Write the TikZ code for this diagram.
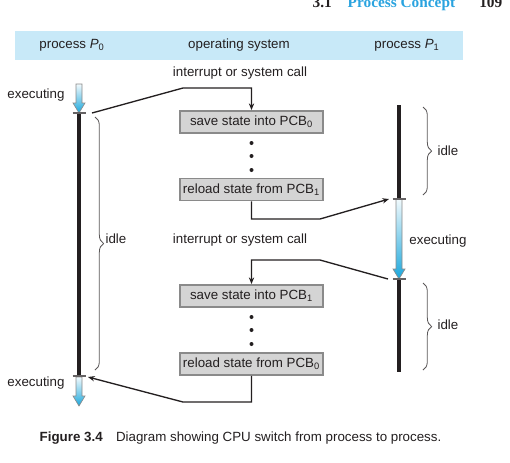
\documentclass[tikz,border=0pt]{standalone}
\usepackage{fontspec}
\setmainfont{Liberation Sans}
\newfontfamily\headserif{Liberation Serif}
\usetikzlibrary{arrows.meta,decorations.pathreplacing}
\definecolor{ink}{HTML}{231F20}
\definecolor{band}{HTML}{C8E9F8}
\definecolor{sky}{HTML}{1AA7DC}
\definecolor{boxgray}{HTML}{D4D4D4}
\definecolor{edge}{HTML}{8A8A8A}
\definecolor{headblue}{HTML}{2AA3DF}

\begin{document}
\begin{tikzpicture}[x=.75pt,y=-.75pt,font=\fontsize{10}{12}\selectfont,text=ink,
  pcb/.style={draw=edge,line width=1.4pt,fill=boxgray,minimum width=107pt,minimum height=16.5pt,inner sep=0pt},
  dot/.style={circle,fill=ink,inner sep=0pt,minimum size=3pt},
  link/.style={draw=ink,line width=1pt,-{Stealth[length=5pt,width=4pt]}},
  timeline/.style={draw=ink,line width=3pt},
  tick/.style={draw=ink!70,line width=.9pt},
  idlebrace/.style={draw=ink!75,line width=.6pt,decorate,decoration={brace,amplitude=6.5pt}},
  runarrow/.style={draw=edge,line width=.5pt,top color=sky!6,bottom color=sky}]
  \useasboundingbox (0,0) rectangle (510,462);
  % running head of the page
  \node[anchor=base west,font=\headserif\bfseries\fontsize{11.5}{12}\selectfont] (runsec) at (308,7) {3.1};
  \node[anchor=base west,font=\headserif\bfseries\fontsize{11.5}{12}\selectfont,text=headblue] (runtitle) at (343,7) {Process Concept};
  \node[anchor=base east,font=\headserif\bfseries\fontsize{11.5}{12}\selectfont] (runpage) at (507,7) {109};
  % header band
  \fill[band] (15,31) rectangle (463,60);
  \node (hp0) at (72,45) {process \textit{P}\textsubscript{0}};
  \node (hos) at (239,45) {operating system};
  \node (hp1) at (407,45) {process \textit{P}\textsubscript{1}};
  % time lines
  \draw[timeline] (79,113) -- (79,376);
  \draw[timeline] (399,105) -- (399,199);
  \draw[timeline] (399,279) -- (399,372);
  \foreach \x/\ya/\yb in {79/84/113, 79/377/406, 399/199/279}
    \path[runarrow] (\x-3,\ya) -- (\x+3,\ya) -- (\x+3,\yb-10) -- (\x+6,\yb-10)
      -- (\x,\yb) -- (\x-6,\yb-10) -- (\x-3,\yb-10) -- cycle;
  \foreach \x/\y in {79/113, 79/376, 399/199, 399/279}
    \draw[tick] (\x-6.5,\y) -- (\x+6.5,\y);
  \coordinate (p0leave) at (92,113);
  \coordinate (p0back) at (88,377);
  \coordinate (p1start) at (389,199);
  \coordinate (p1leave) at (388,279);
  \node (exec0) at (36,95) {executing};
  \node (exec0b) at (36,383) {executing};
  \node (exec1) at (438,241) {executing};
  % idle braces
  \draw[idlebrace] (95,117) -- (95,370);
  \node[anchor=west,inner sep=1pt] (idle0) at (104,239) {idle};
  \draw[idlebrace] (423,107) -- (423,195);
  \node[anchor=west,inner sep=1pt] (idle1a) at (436,151) {idle};
  \draw[idlebrace] (423,283) -- (423,370);
  \node[anchor=west,inner sep=1pt] (idle1b) at (436,325) {idle};
  % operating system
  \node (irq0) at (240,73) {interrupt or system call};
  \node[pcb] (save0) at (251.5,122) {save state into PCB\textsubscript{0}};
  \foreach \y [count=\i] in {143,156,170}
    \node[dot] (dotA\i) at (251.5,\y) {};
  \node[pcb] (load1) at (251.5,189.5) {reload state from PCB\textsubscript{1}};
  \node (irq1) at (240,240) {interrupt or system call};
  \node[pcb] (save1) at (251.5,296) {save state into PCB\textsubscript{1}};
  \foreach \y [count=\i] in {317,330,344}
    \node[dot] (dotB\i) at (251.5,\y) {};
  \node[pcb] (load0) at (251.5,364) {reload state from PCB\textsubscript{0}};
  % switches
  \draw[link] (p0leave) -- (183,88) -| (save0.north);
  \draw[link] (load1.south) |- (320,219) -- (p1start);
  \draw[link] (p1leave) -- (320,260) -| (save1.north);
  \draw[link] (load0.south) |- (183,402) -- (p0back);
  % caption
  \node[anchor=west] (caption) at (35,438)
    {\textbf{Figure 3.4}\quad Diagram showing CPU switch from process to process.};
\end{tikzpicture}
\end{document}
